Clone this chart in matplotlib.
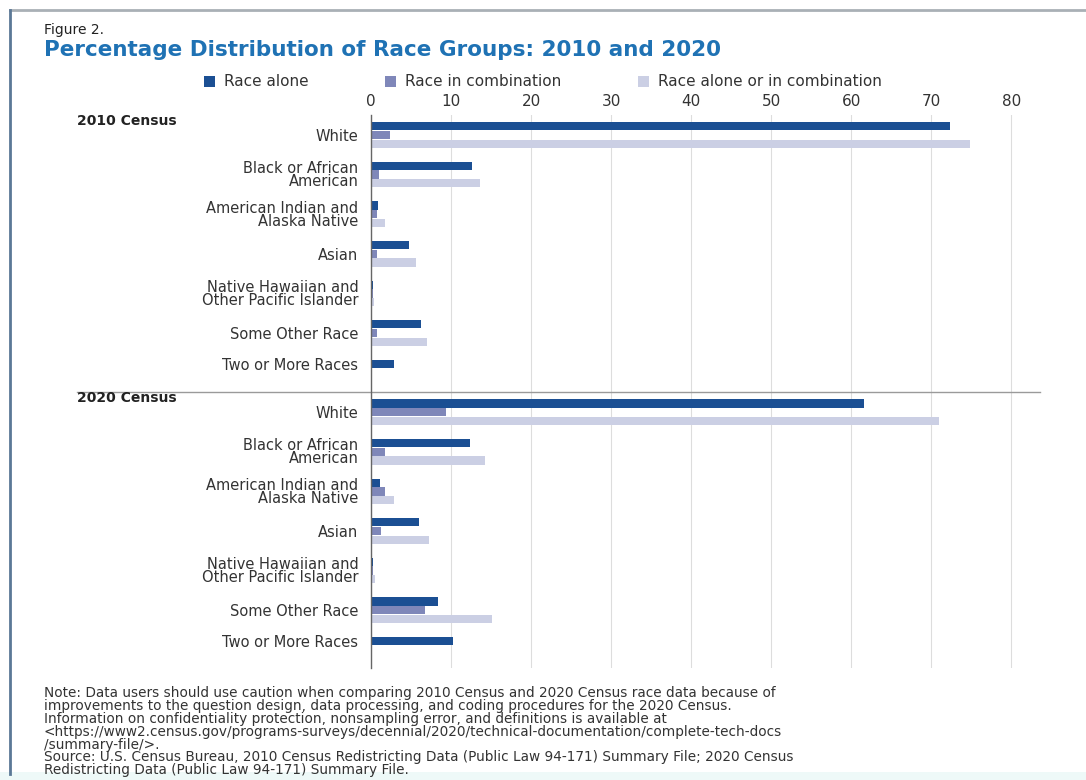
import numpy as np
import matplotlib
matplotlib.use("Agg")
import matplotlib.pyplot as plt
import matplotlib.transforms as mtransforms
from matplotlib.lines import Line2D
from matplotlib.patches import Rectangle, Patch

plt.rcParams['font.family'] = ['DejaVu Sans']

# data (percent of total population)
categories = ["White", "Black or African\nAmerican", "American Indian and\nAlaska Native",
              "Asian", "Native Hawaiian and\nOther Pacific Islander", "Some Other Race",
              "Two or More Races"]
sections = ["2010 Census", "2020 Census"]
alone_2010 = [72.4, 12.6, 0.9, 4.8, 0.2, 6.2, 2.9]
combo_2010 = [2.4, 1.0, 0.8, 0.8, 0.2, 0.8, np.nan]
total_2010 = [74.8, 13.6, 1.7, 5.6, 0.4, 7.0, np.nan]
alone_2020 = [61.6, 12.4, 1.1, 6.0, 0.2, 8.4, 10.2]
combo_2020 = [9.4, 1.8, 1.8, 1.2, 0.3, 6.7, np.nan]
total_2020 = [71.0, 14.2, 2.9, 7.2, 0.5, 15.1, np.nan]
series_names = ["Race alone", "Race in combination", "Race alone or in combination"]
xticks = [0, 10, 20, 30, 40, 50, 60, 70, 80]

colors = ["#1b4f93", "#7f87b9", "#cbcfe4"]
title_blue = "#1f72b4"
text_gray = "#333333"

alone = alone_2010 + alone_2020
combo = combo_2010 + combo_2020
total = total_2010 + total_2020
labels = categories + categories
pos = np.arange(len(labels))
off = 0.22
h = 0.21

fig = plt.figure(figsize=(10.86, 7.8), dpi=100)
ax = fig.add_axes([0.3416, 0.1436, 0.616, 0.709])

for vals, dy, c in zip([alone, combo, total], [-off, 0, off], colors):
    v = np.array(vals, dtype=float)
    ok = ~np.isnan(v)
    ax.barh(pos[ok] + dy, v[ok], height=h, color=c, zorder=3)

# label position: middle of the bars that exist in a group
label_y = []
for i in range(len(labels)):
    ys = [pos[i] + dy for vals, dy in zip([alone, combo, total], [-off, 0, off])
          if not np.isnan(vals[i])]
    label_y.append(np.mean(ys))

ax.set_yticks(label_y)
ax.set_yticklabels(labels, fontsize=10.5, color=text_gray, linespacing=0.82)
ax.set_ylim(13.46, -0.505)
ax.set_xlim(0, 83.6)
ax.set_xticks(xticks)
ax.xaxis.tick_top()
ax.tick_params(axis='x', length=0, pad=4, labelsize=11, labelcolor=text_gray)
ax.tick_params(axis='y', length=0, pad=9)
ax.grid(axis='x', color="#dddddd", linewidth=0.8, zorder=0)
for s in ["top", "right", "bottom"]:
    ax.spines[s].set_visible(False)
ax.spines["left"].set_color("#666666")
ax.spines["left"].set_linewidth(1.0)
ax.spines["left"].set_zorder(4)

# section headers and separator
blend = mtransforms.blended_transform_factory(fig.transFigure, ax.transData)
for k, name in enumerate(sections):
    ax.text(0.071, k * len(categories) - 0.36, name, transform=blend, fontsize=10,
            fontweight="bold", color="#222222", ha="left", va="center")
sep = len(categories) - 0.5
ax.add_line(Line2D([0.071, 0.9576], [sep, sep], transform=blend, color="#9a9a9a",
                   linewidth=1.0, clip_on=False))

# titles
fig.text(0.0405, 1 - 30 / 780, "Figure 2.", fontsize=10, color="#222222", va="center")
fig.text(0.0405, 1 - 50 / 780, "Percentage Distribution of Race Groups: 2010 and 2020",
         fontsize=15.5, fontweight="bold", color=title_blue, va="center")

# legend
handles = [Patch(facecolor=c, edgecolor="none") for c in colors]
fig.legend(handles, series_names, loc="center", bbox_to_anchor=(543 / 1086, 1 - 82 / 780),
           ncol=3, frameon=False, fontsize=11, handlelength=0.7, handleheight=0.7,
           handletextpad=0.6, columnspacing=5.0, labelcolor=text_gray)

# notes
note = ("Note: Data users should use caution when comparing 2010 Census and 2020 Census race data because of\n"
        "improvements to the question design, data processing, and coding procedures for the 2020 Census.\n"
        "Information on confidentiality protection, nonsampling error, and definitions is available at\n"
        "<https://www2.census.gov/programs-surveys/decennial/2020/technical-documentation/complete-tech-docs\n"
        "/summary-file/>.\n"
        "Source: U.S. Census Bureau, 2010 Census Redistricting Data (Public Law 94-171) Summary File; 2020 Census\n"
        "Redistricting Data (Public Law 94-171) Summary File.")
fig.text(0.0405, 1 - 686 / 780, note, fontsize=9.8, color=text_gray, va="top",
         linespacing=0.9)

# frame around the figure
fig.add_artist(Line2D([10 / 1086, 1], [1 - 10 / 780, 1 - 10 / 780], transform=fig.transFigure,
                      color="#a9b0b6", linewidth=2))
fig.add_artist(Line2D([10 / 1086, 10 / 1086], [1 - 10 / 780, 6 / 780], transform=fig.transFigure,
                      color="#5b7896", linewidth=2))
fig.add_artist(Rectangle((0, 0), 1, 8 / 780, transform=fig.transFigure, facecolor="#eef9f8",
                         edgecolor="none"))

fig.savefig("out.png", dpi=100)
